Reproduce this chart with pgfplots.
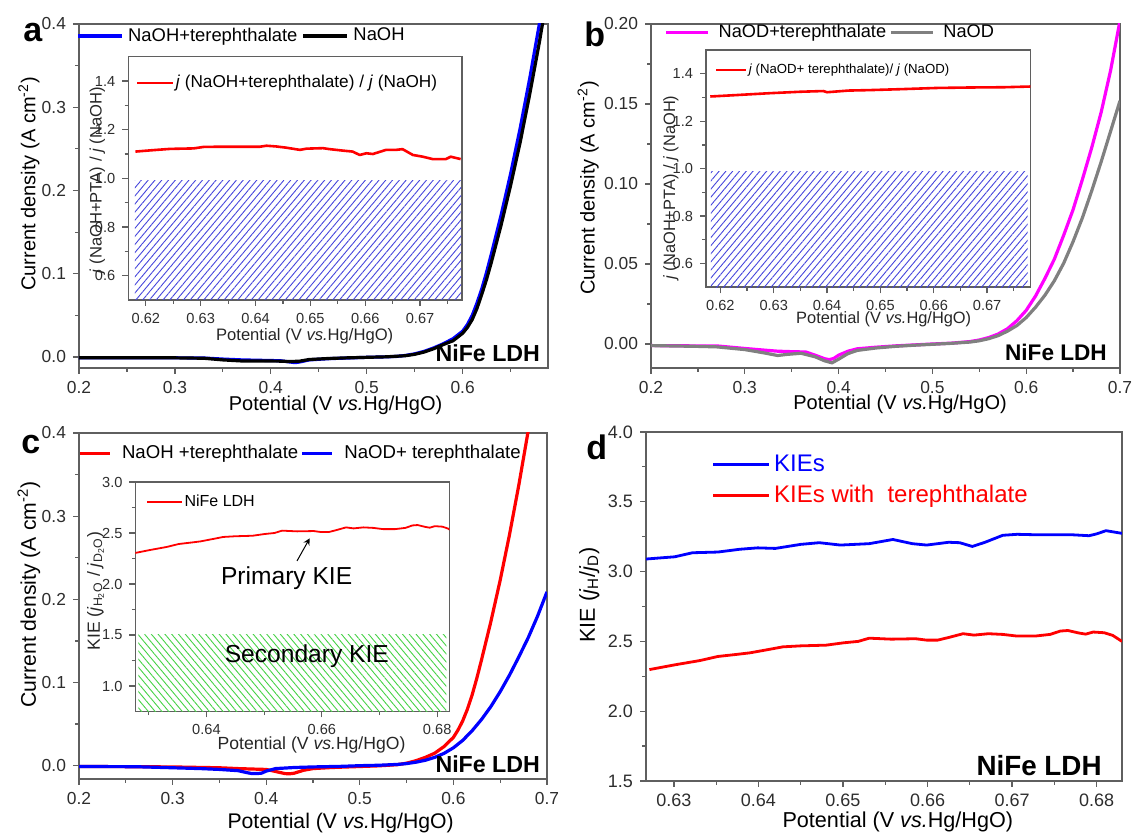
\documentclass[border=0pt]{standalone}
\usepackage{fontspec}
\setmainfont{Liberation Sans}
\usepackage{pgfplots}
\pgfplotsset{compat=1.18}
\usetikzlibrary{patterns.meta}

\definecolor{axisgray}{RGB}{95,95,95}
\definecolor{ticktext}{RGB}{45,45,45}
\definecolor{hatchblue}{RGB}{70,70,220}
\definecolor{hatchgreen}{RGB}{70,210,70}
\definecolor{curvegray}{RGB}{128,128,128}
\definecolor{curvemagenta}{RGB}{255,0,255}
\definecolor{pureblue}{RGB}{0,0,255}
\definecolor{purered}{RGB}{255,0,0}

\newcommand{\fs}[1]{\fontsize{#1}{#1}\selectfont}

\pgfplotsset{
  panel/.style={
    scale only axis, anchor=south west,
    axis line style={draw=axisgray, line width=0.8pt},
    tick align=outside, tick pos=left,
    major tick length=3pt, minor tick length=1.8pt,
    every tick/.style={draw=axisgray, line width=0.6pt},
    tick label style={text=ticktext},
    /pgf/number format/assume math mode=true,
    legend cell align=left,
    every axis plot/.append style={line join=round},
  },
  xprec/.style={x tick label style={/pgf/number format/.cd, fixed, fixed zerofill, precision=#1}},
  yprec/.style={y tick label style={/pgf/number format/.cd, fixed, fixed zerofill, precision=#1}},
  linelegend/.style={legend image code/.code={\draw[##1] (0pt,0pt) -- (#1,0pt);}},
}

\begin{document}
\begin{tikzpicture}
\path[use as bounding box] (0,0) rectangle (566pt,417pt);

%================ a: NaOH with / without terephthalate ================
\begin{axis}[panel, at={(39.5pt,233pt)}, width=234.5pt, height=172pt,
  xmin=0.2, xmax=0.689, ymin=-0.0132, ymax=0.4,
  xtick={0.2,0.3,0.4,0.5,0.6}, minor xtick={0.25,0.35,0.45,0.55,0.65},
  ytick={0,0.1,0.2,0.3,0.4}, minor ytick={0.05,0.15,0.25,0.35},
  xprec=1, yprec=1, tick label style={font=\fs{8.7}},
  xlabel={Potential (V \textit{vs.}Hg/HgO)},
  ylabel={Current density (A cm\textsuperscript{-2})},
  label style={font=\fs{10}},
  xlabel style={at={(axis description cs:0.547,-0.11)}, anchor=center},
  ylabel style={at={(axis description cs:-0.107,0.535)}, anchor=center},
  legend columns=2, linelegend=22pt,
  legend style={at={(axis description cs:-0.006,0.965)}, anchor=west, draw=none, fill=none,
    inner sep=0pt, font=\fs{9.2}, nodes={inner xsep=2.2pt},
    /tikz/every odd column/.append style={column sep=0pt}},
]
\addplot[pureblue, line width=1.6pt] coordinates {
(0.20,-0.0010)(0.25,-0.0010)(0.30,-0.0010)(0.33,-0.0012)(0.35,-0.0025)(0.37,-0.0035)
(0.39,-0.0040)(0.41,-0.0045)(0.42,-0.0060)(0.425,-0.0068)(0.43,-0.0060)(0.44,-0.0035)
(0.46,-0.0020)(0.48,-0.0012)(0.50,-0.0004)(0.52,0.0002)(0.53,0.0006)(0.54,0.0018)
(0.55,0.0038)(0.56,0.0068)(0.57,0.0110)(0.58,0.0160)(0.59,0.0220)(0.60,0.0310)
(0.605,0.0390)(0.61,0.0500)(0.615,0.0650)(0.62,0.0820)(0.625,0.1020)(0.63,0.1240)
(0.64,0.1700)(0.65,0.2200)(0.66,0.2750)(0.67,0.3350)(0.68,0.4000)(0.685,0.4350)};
\addlegendentry{NaOH+terephthalate}
\addplot[black, line width=1.6pt] coordinates {
(0.20,-0.0010)(0.30,-0.0010)(0.33,-0.0015)(0.35,-0.0035)(0.37,-0.0048)(0.39,-0.0048)
(0.41,-0.0050)(0.42,-0.0055)(0.43,-0.0050)(0.44,-0.0030)(0.46,-0.0018)(0.48,-0.0010)
(0.50,-0.0004)(0.52,0.0002)(0.54,0.0015)(0.55,0.0032)(0.56,0.0060)(0.57,0.0100)
(0.58,0.0150)(0.59,0.0195)(0.60,0.0285)(0.605,0.0355)(0.61,0.0450)(0.615,0.0585)
(0.62,0.0755)(0.625,0.0935)(0.63,0.1140)(0.64,0.1580)(0.65,0.2060)(0.66,0.2580)
(0.67,0.3160)(0.68,0.3780)(0.685,0.4120)(0.69,0.4450)};
\addlegendentry{NaOH}
\node[anchor=east, font=\fs{11.6}\bfseries] at (axis description cs:0.998,0.044) {NiFe LDH};
\end{axis}

% inset of a: current ratio
\begin{axis}[panel, at={(64.15pt,267pt)}, width=167pt, height=121.65pt,
  xmin=0.6168, xmax=0.6777, ymin=0.5, ymax=1.5,
  xtick={0.62,0.63,0.64,0.65,0.66,0.67}, minor xtick={0.625,0.635,0.645,0.655,0.665,0.675},
  ytick={0.6,0.8,1.0,1.2,1.4}, minor ytick={0.7,0.9,1.1,1.3},
  xprec=2, yprec=1, tick label style={font=\fs{7.3}},
  xlabel={Potential (V \textit{vs.}Hg/HgO)},
  ylabel={\textit{j} (NaOH+PTA) / \textit{j} (NaOH)},
  label style={font=\fs{8.3}, text=black!85},
  xlabel style={at={(axis description cs:0.528,-0.148)}, anchor=center},
  ylabel style={at={(axis description cs:-0.093,0.493)}, anchor=center},
  linelegend=17.8pt,
  legend style={at={(axis description cs:0.022,0.892)}, anchor=west, draw=none, fill=none,
    inner sep=0pt, font=\fs{8.6}, nodes={inner xsep=0.8pt}},
]
\addplot[purered, line width=1.3pt] coordinates {
(0.6181,1.110)(0.6214,1.116)(0.6244,1.121)(0.6287,1.123)(0.6305,1.129)(0.6335,1.130)
(0.6408,1.130)(0.6420,1.134)(0.6438,1.131)(0.6456,1.126)(0.6481,1.117)(0.6493,1.122)
(0.6523,1.124)(0.6535,1.120)(0.6559,1.114)(0.6577,1.110)(0.6590,1.096)(0.6602,1.103)
(0.6614,1.100)(0.6638,1.117)(0.6656,1.117)(0.6668,1.120)(0.6687,1.096)(0.6705,1.089)
(0.6723,1.079)(0.6747,1.079)(0.6756,1.089)(0.6774,1.079)};
\addlegendentry{\textit{j} (NaOH+terephthalate) / \textit{j} (NaOH)}
\addplot[draw=none, forget plot, pattern={Lines[angle=50,distance=2.6pt,line width=0.45pt]},
  pattern color=hatchblue] coordinates {(0.6180,0.5)(0.6775,0.5)(0.6775,0.99)(0.6180,0.99)} -- cycle;
\end{axis}

%================ b: NaOD with / without terephthalate ================
\begin{axis}[panel, at={(325.5pt,233pt)}, width=234.5pt, height=172pt,
  xmin=0.2, xmax=0.7, ymin=-0.015, ymax=0.2,
  xtick={0.2,0.3,0.4,0.5,0.6,0.7}, minor xtick={0.25,0.35,0.45,0.55,0.65},
  ytick={0,0.05,0.1,0.15,0.2}, minor ytick={0.025,0.075,0.125,0.175},
  xprec=1, yprec=2, tick label style={font=\fs{8.7}},
  xlabel={Potential (V \textit{vs.}Hg/HgO)},
  ylabel={Current density (A cm\textsuperscript{-2})},
  label style={font=\fs{10}},
  xlabel style={at={(axis description cs:0.531,-0.107)}, anchor=center},
  ylabel style={at={(axis description cs:-0.134,0.523)}, anchor=center},
  legend columns=2, linelegend=21pt,
  legend style={at={(axis description cs:0.028,0.975)}, anchor=west, draw=none, fill=none,
    inner sep=0pt, font=\fs{9.1}, nodes={inner xsep=1.5pt},
    /tikz/every odd column/.append style={column sep=3pt}},
]
\addplot[curvemagenta, line width=1.6pt] coordinates {
(0.20,-0.0010)(0.25,-0.0012)(0.27,-0.0012)(0.30,-0.0028)(0.32,-0.0038)(0.335,-0.0045)
(0.35,-0.0048)(0.365,-0.0050)(0.375,-0.0070)(0.385,-0.0092)(0.39,-0.0098)(0.395,-0.0090)
(0.40,-0.0070)(0.41,-0.0045)(0.42,-0.0030)(0.44,-0.0020)(0.46,-0.0012)(0.48,-0.0006)
(0.50,0.0000)(0.52,0.0005)(0.54,0.0015)(0.55,0.0025)(0.56,0.0040)(0.57,0.0062)
(0.58,0.0095)(0.59,0.0145)(0.60,0.0210)(0.61,0.0300)(0.62,0.0410)(0.63,0.0530)
(0.64,0.0680)(0.65,0.0840)(0.66,0.1030)(0.67,0.1230)(0.68,0.1450)(0.69,0.1710)(0.70,0.2020)};
\addlegendentry{NaOD+terephthalate}
\addplot[curvegray, line width=1.6pt] coordinates {
(0.20,-0.0010)(0.25,-0.0015)(0.27,-0.0018)(0.30,-0.0035)(0.32,-0.0055)(0.335,-0.0072)
(0.345,-0.0065)(0.36,-0.0058)(0.375,-0.0080)(0.385,-0.0105)(0.393,-0.0118)(0.40,-0.0095)
(0.41,-0.0060)(0.42,-0.0040)(0.44,-0.0025)(0.46,-0.0015)(0.48,-0.0008)(0.50,-0.0002)
(0.52,0.0004)(0.54,0.0012)(0.55,0.0020)(0.56,0.0033)(0.57,0.0052)(0.58,0.0080)
(0.59,0.0115)(0.60,0.0165)(0.61,0.0230)(0.62,0.0305)(0.63,0.0395)(0.64,0.0505)
(0.65,0.0640)(0.66,0.0790)(0.67,0.0960)(0.68,0.1140)(0.69,0.1330)(0.70,0.1520)};
\addlegendentry{NaOD}
\node[anchor=east, font=\fs{11.3}\bfseries] at (axis description cs:0.987,0.0465) {NiFe LDH};
\end{axis}

% inset of b: current ratio
\begin{axis}[panel, at={(353pt,273.35pt)}, width=162.15pt, height=118.65pt,
  xmin=0.6173, xmax=0.6781, ymin=0.5, ymax=1.5,
  xtick={0.62,0.63,0.64,0.65,0.66,0.67}, minor xtick={0.625,0.635,0.645,0.655,0.665,0.675},
  ytick={0.6,0.8,1.0,1.2,1.4}, minor ytick={0.7,0.9,1.1,1.3},
  xprec=2, yprec=1, tick label style={font=\fs{7.3}},
  xlabel={Potential (V \textit{vs.}Hg/HgO)},
  ylabel={\textit{j} (NaOH+PTA) / \textit{j} (NaOH)},
  label style={font=\fs{8.2}, text=black!85},
  xlabel style={at={(axis description cs:0.548,-0.135)}, anchor=center},
  ylabel style={at={(axis description cs:-0.108,0.42)}, anchor=center},
  linelegend=15pt,
  legend style={at={(axis description cs:0.027,0.916)}, anchor=west, draw=none, fill=none,
    inner sep=0pt, font=\fs{6.6}, nodes={inner xsep=0.5pt}},
]
\addplot[purered, line width=1.3pt] coordinates {
(0.6181,1.304)(0.6230,1.310)(0.6293,1.318)(0.6350,1.324)(0.6393,1.327)(0.6400,1.322)
(0.6440,1.329)(0.6481,1.331)(0.6540,1.335)(0.6606,1.340)(0.6670,1.342)(0.6731,1.343)
(0.6781,1.346)};
\addlegendentry{\textit{j} (NaOD+ terephthalate)/ \textit{j} (NaOD)}
\addplot[draw=none, forget plot, pattern={Lines[angle=50,distance=2.6pt,line width=0.45pt]},
  pattern color=hatchblue] coordinates {(0.6182,0.5)(0.6776,0.5)(0.6776,0.99)(0.6182,0.99)} -- cycle;
\end{axis}

%================ c: NaOH vs NaOD with terephthalate ================
\begin{axis}[panel, at={(39.5pt,27.5pt)}, width=234pt, height=173pt,
  xmin=0.2, xmax=0.7, ymin=-0.016, ymax=0.4,
  xtick={0.2,0.3,0.4,0.5,0.6,0.7}, minor xtick={0.25,0.35,0.45,0.55,0.65},
  ytick={0,0.1,0.2,0.3,0.4}, minor ytick={0.05,0.15,0.25,0.35},
  xprec=1, yprec=1, tick label style={font=\fs{8.7}},
  xlabel={Potential (V \textit{vs.}Hg/HgO)},
  ylabel={Current density (A cm\textsuperscript{-2})},
  label style={font=\fs{10.6}},
  xlabel style={at={(axis description cs:0.559,-0.128)}, anchor=center},
  ylabel style={at={(axis description cs:-0.107,0.533)}, anchor=center},
  legend columns=2, linelegend=15pt,
  legend style={at={(axis description cs:-0.002,0.94)}, anchor=west, draw=none, fill=none,
    inner sep=0pt, font=\fs{9.3}, nodes={inner xsep=1.2pt},
    /tikz/every odd column/.append style={column sep=4pt}},
]
\addplot[purered, line width=1.6pt] coordinates {
(0.20,-0.0010)(0.26,-0.0012)(0.30,-0.0015)(0.35,-0.0025)(0.37,-0.0035)(0.39,-0.0042)
(0.40,-0.0045)(0.41,-0.0070)(0.42,-0.0095)(0.425,-0.0098)(0.43,-0.0090)(0.44,-0.0055)
(0.45,-0.0035)(0.47,-0.0022)(0.50,-0.0010)(0.52,-0.0002)(0.54,0.0012)(0.55,0.0030)
(0.56,0.0060)(0.57,0.0100)(0.58,0.0150)(0.59,0.0230)(0.60,0.0340)(0.605,0.0430)
(0.61,0.0540)(0.615,0.0680)(0.62,0.0850)(0.625,0.1050)(0.63,0.1270)(0.64,0.1730)
(0.65,0.2230)(0.66,0.2780)(0.67,0.3380)(0.68,0.4030)(0.685,0.4400)};
\addlegendentry{NaOH +terephthalate}
\addplot[pureblue, line width=1.6pt] coordinates {
(0.20,-0.0010)(0.26,-0.0012)(0.30,-0.0025)(0.33,-0.0035)(0.35,-0.0045)(0.37,-0.0060)
(0.38,-0.0085)(0.385,-0.0095)(0.39,-0.0095)(0.395,-0.0090)(0.40,-0.0065)(0.41,-0.0035)
(0.43,-0.0022)(0.45,-0.0015)(0.48,-0.0008)(0.50,0.0000)(0.52,0.0005)(0.54,0.0015)
(0.55,0.0025)(0.56,0.0042)(0.57,0.0065)(0.58,0.0100)(0.59,0.0148)(0.60,0.0215)
(0.61,0.0305)(0.62,0.0420)(0.63,0.0555)(0.64,0.0710)(0.65,0.0890)(0.66,0.1090)
(0.67,0.1310)(0.68,0.1540)(0.69,0.1800)(0.70,0.2090)};
\addlegendentry{NaOD+ terephthalate}
\node[anchor=east, font=\fs{11.6}\bfseries] at (axis description cs:1.0,0.043) {NiFe LDH};
\end{axis}

% inset of c: kinetic isotope effect
\begin{axis}[panel, at={(67.75pt,61.25pt)}, width=156.9pt, height=114.75pt,
  xmin=0.6277, xmax=0.6821, ymin=0.75, ymax=3.0,
  xtick={0.64,0.66,0.68}, minor xtick={0.63,0.65,0.67},
  ytick={1.0,1.5,2.0,2.5,3.0}, minor ytick={1.25,1.75,2.25,2.75},
  xprec=2, yprec=1, tick label style={font=\fs{7.3}},
  xlabel={Potential (V \textit{vs.}Hg/HgO)},
  ylabel={KIE (\textit{j}\textsubscript{H\textsubscript{2}O} / \textit{j}\textsubscript{D\textsubscript{2}O})},
  label style={font=\fs{8.8}, text=black!85},
  xlabel style={at={(axis description cs:0.561,-0.145)}, anchor=center},
  ylabel style={at={(axis description cs:-0.127,0.525)}, anchor=center},
  linelegend=17.5pt,
  legend style={at={(axis description cs:0.034,0.912)}, anchor=west, draw=none, fill=none,
    inner sep=0pt, font=\fs{8}, nodes={inner xsep=0.6pt}},
]
\addplot[purered, line width=0.9pt] coordinates {
(0.6271,2.298)(0.6301,2.332)(0.6331,2.363)(0.6352,2.392)(0.6373,2.406)(0.6390,2.418)
(0.6412,2.442)(0.6429,2.461)(0.6450,2.468)(0.6480,2.473)(0.6501,2.490)(0.6518,2.500)
(0.6531,2.523)(0.6557,2.516)(0.6586,2.519)(0.6599,2.509)(0.6612,2.509)(0.6625,2.528)
(0.6642,2.555)(0.6655,2.545)(0.6672,2.555)(0.6689,2.550)(0.6706,2.538)(0.6727,2.538)
(0.6745,2.550)(0.6757,2.574)(0.6766,2.578)(0.6779,2.560)(0.6787,2.552)(0.6796,2.567)
(0.6809,2.562)(0.6819,2.543)(0.6830,2.500)};
\addlegendentry{NiFe LDH}
\addplot[draw=none, forget plot, pattern={Lines[angle=-50,distance=2.6pt,line width=0.45pt]},
  pattern color=hatchgreen] coordinates {(0.6282,0.75)(0.6816,0.75)(0.6816,1.5)(0.6282,1.5)} -- cycle;
\addplot[black, line width=0.5pt, -stealth, forget plot] coordinates {(0.6557,2.226)(0.6579,2.448)};
\node[font=\fs{12.3}] at (axis cs:0.6539,2.06) {Primary KIE};
\node[font=\fs{12.3}] at (axis cs:0.6574,1.294) {Secondary KIE};
\end{axis}

%================ d: KIE with / without terephthalate ================
\begin{axis}[panel, at={(323pt,26.5pt)}, width=238pt, height=174.5pt,
  xmin=0.6267, xmax=0.683, ymin=1.5, ymax=4.0,
  xtick={0.63,0.64,0.65,0.66,0.67,0.68}, minor xtick={0.635,0.645,0.655,0.665,0.675},
  ytick={1.5,2.0,2.5,3.0,3.5,4.0}, minor ytick={1.75,2.25,2.75,3.25,3.75},
  xprec=2, yprec=1, tick label style={font=\fs{9}},
  xlabel={Potential (V \textit{vs.}Hg/HgO)},
  ylabel={KIE (\textit{j}\textsubscript{H}/\textit{j}\textsubscript{D})},
  label style={font=\fs{10.8}},
  xlabel style={at={(axis description cs:0.529,-0.118)}, anchor=center},
  ylabel style={at={(axis description cs:-0.119,0.533)}, anchor=center},
  linelegend=28pt,
  legend style={at={(axis description cs:0.137,0.862)}, anchor=west, draw=none, fill=none,
    inner sep=0pt, font=\fs{12}, row sep=1.5pt, nodes={inner xsep=1.9pt}},
]
\addplot[pureblue, line width=1.4pt] coordinates {
(0.6267,3.090)(0.6301,3.106)(0.6322,3.135)(0.6352,3.140)(0.6378,3.160)(0.6399,3.170)
(0.6420,3.166)(0.6450,3.195)(0.6472,3.207)(0.6497,3.190)(0.6531,3.200)(0.6559,3.230)
(0.6582,3.200)(0.6599,3.190)(0.6625,3.210)(0.6638,3.207)(0.6653,3.180)(0.6668,3.210)
(0.6689,3.260)(0.6706,3.267)(0.6727,3.264)(0.6770,3.264)(0.6791,3.257)(0.6800,3.270)
(0.6811,3.293)(0.6830,3.274)};
\addlegendentry{\textcolor{pureblue}{KIEs}}
\addplot[purered, line width=1.4pt] coordinates {
(0.6271,2.298)(0.6301,2.332)(0.6331,2.363)(0.6352,2.392)(0.6373,2.406)(0.6390,2.418)
(0.6412,2.442)(0.6429,2.461)(0.6450,2.468)(0.6480,2.473)(0.6501,2.490)(0.6518,2.500)
(0.6531,2.523)(0.6557,2.516)(0.6586,2.519)(0.6599,2.509)(0.6612,2.509)(0.6625,2.528)
(0.6642,2.555)(0.6655,2.545)(0.6672,2.555)(0.6689,2.550)(0.6706,2.538)(0.6727,2.538)
(0.6745,2.550)(0.6757,2.574)(0.6766,2.578)(0.6779,2.560)(0.6787,2.552)(0.6796,2.567)
(0.6809,2.562)(0.6819,2.543)(0.6830,2.500)};
\addlegendentry{\textcolor{purered}{KIEs with\ \ terephthalate}}
\node[anchor=east, font=\fs{13.9}\bfseries] at (axis description cs:0.972,0.043) {NiFe LDH};
\end{axis}

% panel letters
\node[anchor=base west, inner sep=0pt, font=\fs{17}\bfseries] at (11.5pt,396pt) {a};
\node[anchor=base west, inner sep=0pt, font=\fs{17}\bfseries] at (292pt,393.5pt) {b};
\node[anchor=base west, inner sep=0pt, font=\fs{17}\bfseries] at (10.5pt,190pt) {c};
\node[anchor=base west, inner sep=0pt, font=\fs{17}\bfseries] at (293pt,187pt) {d};
\end{tikzpicture}
\end{document}
